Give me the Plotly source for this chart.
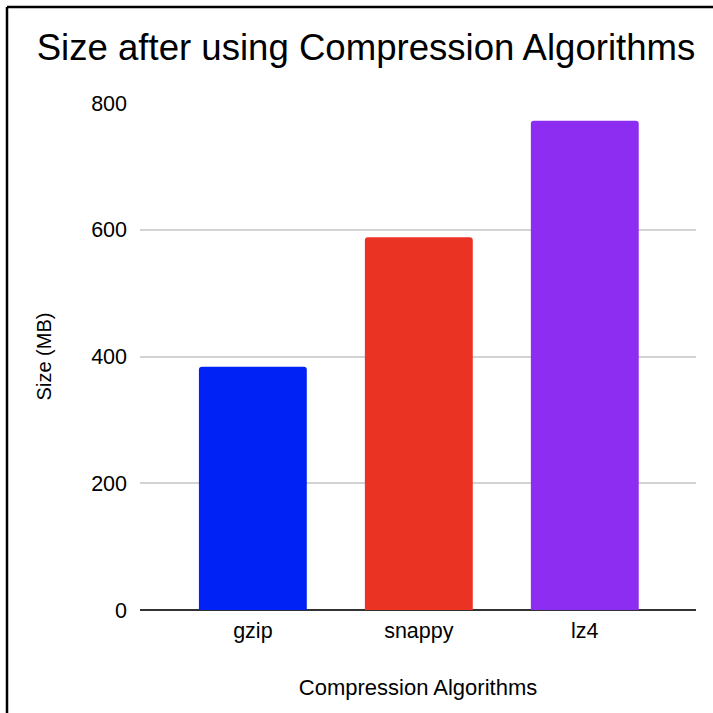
import plotly.graph_objects as go

# Compressed size per algorithm
algorithms = ["gzip", "snappy", "lz4"]
sizes_mb = [384, 588, 772]
bar_colors = ["#0022F5", "#EA3323", "#8E2DF2"]
y_ticks = [0, 200, 400, 600, 800]

W, H = 713, 713
L, R, T, B = 140, 17, 103, 103
FONT = "Arial, Liberation Sans, Helvetica, sans-serif"

fig = go.Figure(
    go.Bar(
        x=algorithms,
        y=sizes_mb,
        marker=dict(color=bar_colors, line=dict(width=0)),
        width=0.65,
        hoverinfo="x+y",
    )
)

# frame lines along the top and left edges of the page
pw, ph = W - L - R, H - T - B
def px_x(p):
    return (p - L) / pw
def px_y(p):
    return (H - B - p) / ph

fig.add_shape(type="line", xref="paper", yref="paper",
              x0=px_x(7), x1=px_x(W + 5), y0=px_y(7), y1=px_y(7),
              line=dict(color="black", width=2.5))
fig.add_shape(type="line", xref="paper", yref="paper",
              x0=px_x(7), x1=px_x(7), y0=px_y(7), y1=px_y(H + 5),
              line=dict(color="black", width=2.5))

fig.update_layout(
    width=W,
    height=H,
    margin=dict(l=L, r=R, t=T, b=B, pad=0),
    paper_bgcolor="white",
    plot_bgcolor="white",
    font=dict(family=FONT, color="#000000", size=21),
    barcornerradius=3,
    showlegend=False,
    title=dict(
        text="Size after using Compression Algorithms",
        font=dict(family=FONT, size=36.6, color="#000000"),
        x=366 / W,
        xanchor="center",
        xref="container",
        y=1 - 47 / H,
        yanchor="middle",
    ),
    xaxis=dict(
        range=[-0.68, 2.67],
        showgrid=False,
        showline=False,
        zeroline=False,
        ticks="",
        tickfont=dict(size=21.5, color="#000000"),
        ticklabelstandoff=5,
        title=dict(text="Compression Algorithms", font=dict(size=22, color="#000000"), standoff=38),
    ),
    yaxis=dict(
        range=[0, 800],
        tickvals=y_ticks,
        ticktext=[str(v) for v in y_ticks],
        showgrid=True,
        gridcolor="#D3D3D3",
        gridwidth=1.5,
        zeroline=True,
        zerolinecolor="#333333",
        zerolinewidth=2,
        showline=False,
        ticks="",
        tickfont=dict(size=21.5, color="#000000"),
        ticklabelstandoff=12,
        title=dict(text="Size (MB)", font=dict(size=20, color="#000000"), standoff=34),
    ),
)

fig.write_html("out.html")
